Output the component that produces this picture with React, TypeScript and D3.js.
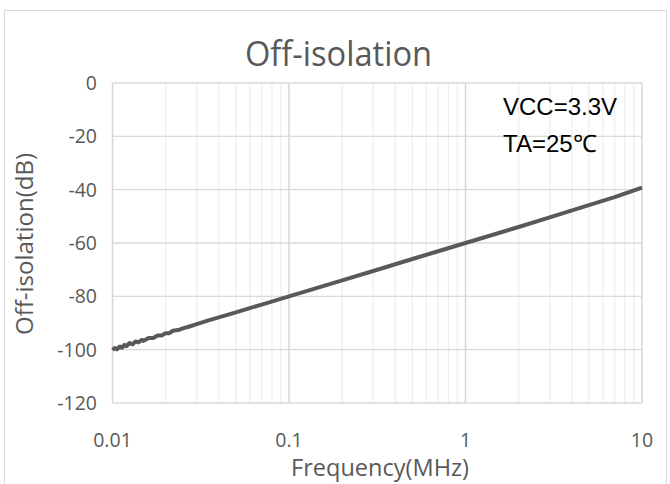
import React from "react";
import * as d3 from "d3";

const freqMHz = [0.01, 0.0103, 0.0106, 0.011, 0.0113, 0.0117, 0.012, 0.0125, 0.013, 0.0135, 0.014, 0.0147, 0.015, 0.016, 0.017, 0.018, 0.019, 0.02, 0.021, 0.022, 0.024, 0.025, 0.027, 0.03, 0.035, 0.04, 0.05, 0.06, 0.07, 0.1, 0.2, 0.3, 0.5, 0.7, 1, 2, 3, 5, 7, 10];
const isolationDb = [-100.1, -99.4, -99.9, -98.8, -99.3, -98.2, -98.7, -97.5, -98.0, -96.9, -97.3, -96.3, -96.7, -95.6, -95.6, -94.7, -94.7, -93.8, -93.8, -92.9, -92.5, -92.0, -91.4, -90.4, -89.0, -87.9, -86.0, -84.4, -83.1, -80.0, -74.0, -70.5, -66.0, -63.1, -60.0, -54.0, -50.4, -45.8, -42.8, -39.2];
const xTicks = [0.01, 0.1, 1, 10];
const xTickLabels = ["0.01", "0.1", "1", "10"];
const yTicks = [0, -20, -40, -60, -80, -100, -120];

const W = 670;
const H = 484;
const M = { left: 112.5, right: 642, top: 83, bottom: 403 };

export default function App() {
  const x = d3.scaleLog().domain([0.01, 10]).range([M.left, M.right]);
  const y = d3.scaleLinear().domain([-120, 0]).range([M.bottom, M.top]);

  const minor: number[] = [];
  for (let d = 0.01; d < 10; d *= 10) {
    for (let k = 2; k <= 9; k++) minor.push(+(d * k).toPrecision(3));
  }

  const line = d3
    .line<number>()
    .x((_, i) => x(freqMHz[i]))
    .y((v) => y(v));

  const font = "'Open Sans', sans-serif";
  const textColor = "#595959";

  return (
    <svg width={W} height={H} style={{ position: "absolute", left: 0, top: 0, background: "#fff" }}>
      <rect x={4.5} y={10.5} width={662} height={500} fill="#fff" stroke="#d9d9d9" strokeWidth={1} />
      <text x={338.5} y={66} textAnchor="middle" fontFamily={font} fontSize={34} fill={textColor}
        textLength={187} lengthAdjust="spacingAndGlyphs">
        Off-isolation
      </text>
      {minor.map((f) => (
        <line key={"m" + f} x1={x(f)} x2={x(f)} y1={M.top} y2={M.bottom} stroke="#eeeeee" strokeWidth={1.3} />
      ))}
      {yTicks.map((t) => (
        <line key={"h" + t} x1={M.left} x2={M.right} y1={y(t)} y2={y(t)} stroke="#d9d9d9" strokeWidth={1.3} />
      ))}
      {xTicks.map((t) => (
        <line key={"v" + t} x1={x(t)} x2={x(t)} y1={M.top} y2={M.bottom} stroke="#d6d6d6" strokeWidth={1.5} />
      ))}
      {yTicks.map((t) => (
        <text key={"yl" + t} x={97} y={y(t) + 7} textAnchor="end" fontFamily={font} fontSize={19.5} fill={textColor}>
          {t}
        </text>
      ))}
      {xTicks.map((t, i) => (
        <text key={"xl" + t} x={x(t)} y={447} textAnchor="middle" fontFamily={font} fontSize={19.5} fill={textColor}>
          {xTickLabels[i]}
        </text>
      ))}
      <text x={380} y={476} textAnchor="middle" fontFamily={font} fontSize={23} fill={textColor}
        textLength={178} lengthAdjust="spacingAndGlyphs">
        Frequency(MHz)
      </text>
      <text
        transform={`translate(33, ${(M.top + M.bottom) / 2 + 1}) rotate(-90)`}
        textAnchor="middle"
        fontFamily={font}
        fontSize={23}
        fill={textColor}
        textLength={182}
        lengthAdjust="spacingAndGlyphs"
      >
        Off-isolation(dB)
      </text>
      <path d={line(isolationDb) || ""} fill="none" stroke="#595959" strokeWidth={4} strokeLinejoin="round" />
      <text x={503} y={115} fontFamily="'Liberation Sans', Arial, sans-serif" fontSize={24} fill="#000">
        VCC=3.3V
      </text>
      <text x={503} y={152} fontFamily="'Liberation Sans', Arial, sans-serif" fontSize={24} fill="#000">
        TA=25℃
      </text>
    </svg>
  );
}
